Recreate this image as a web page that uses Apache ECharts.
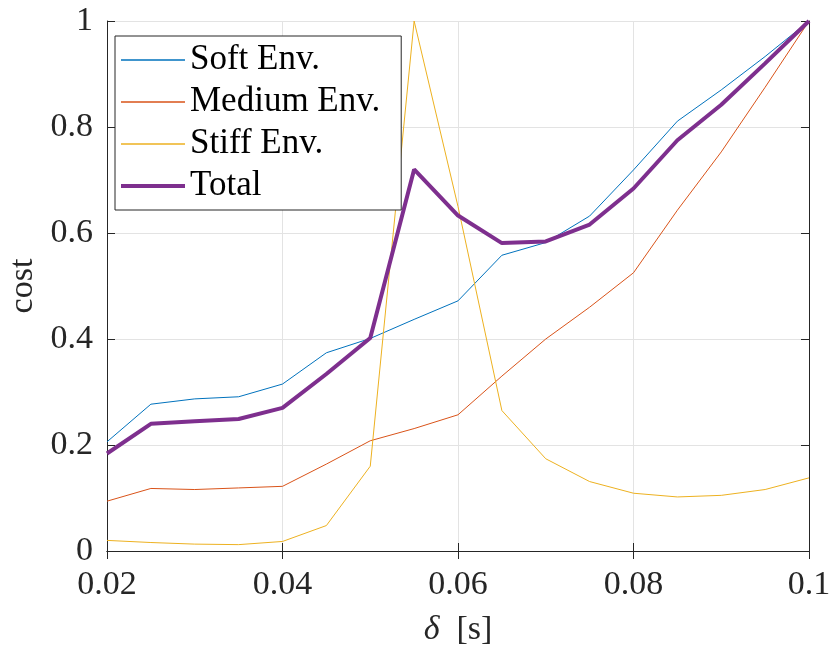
<!DOCTYPE html>
<html>
<head>
<meta charset="utf-8">
<script src="https://cdn.jsdelivr.net/npm/echarts@6/dist/echarts.min.js"></script>
<style>html,body{margin:0;padding:0;background:#fff;}#c{width:832px;height:646px;}</style>
</head>
<body>
<div id="c"></div>
<script>
const delta = [0.02,0.025,0.03,0.035,0.04,0.045,0.05,0.055,0.06,0.065,0.07,0.075,0.08,0.085,0.09,0.095,0.1];
const soft   = [0.206,0.277,0.287,0.291,0.315,0.374,0.401,0.437,0.472,0.558,0.582,0.632,0.719,0.811,0.870,0.933,1.0];
const medium = [0.094,0.118,0.116,0.119,0.122,0.164,0.208,0.231,0.257,0.330,0.400,0.460,0.525,0.643,0.753,0.875,1.0];
const stiff  = [0.020,0.016,0.013,0.012,0.018,0.048,0.160,1.0,0.650,0.265,0.174,0.131,0.109,0.102,0.105,0.116,0.138];
const total  = [0.184,0.240,0.245,0.249,0.270,0.334,0.402,0.720,0.633,0.581,0.584,0.616,0.684,0.775,0.842,0.920,1.0];
const seriesNames = ['Soft Env.','Medium Env.','Stiff Env.','Total'];
const colors = ['#0072BD','#D95319','#EDB120','#7E2F8E'];
const widths = [1,1,1,4];
const xTicks = [0.02,0.04,0.06,0.08,0.1];
const yTicks = [0,0.2,0.4,0.6,0.8,1];

const font = "'Liberation Serif', 'Times New Roman', serif";
const axisColor = '#262626';
const allData = [soft, medium, stiff, total];

function pairs(arr){ return delta.map((d,i)=>[d,arr[i]]); }

const chart = echarts.init(document.getElementById('c'));
const baseX = {type:'value', min:0.02, max:0.1, interval:0.02};
const baseY = {type:'value', min:0, max:1, interval:0.2};
chart.setOption({
  animation:false,
  backgroundColor:'#fff',
  grid:{left:107, right:23, top:21, bottom:95, containLabel:false, outerBoundsMode:'none'},
  legend:{
    show:true,
    orient:'vertical', left:115, top:36,
    data:seriesNames.map((n,i)=>({
      name:n,
      icon: widths[i] > 1 ? 'path://M0,0L64,0L64,4L0,4Z' : 'path://M0,0L64,0L64,1.3L0,1.3Z',
      itemStyle:{color:colors[i], borderWidth:0}
    })),
    itemWidth:64, itemHeight:14, itemGap:0,
    padding:[3,21,3,6],
    backgroundColor:'#fff', borderColor:'#262626', borderWidth:1,
    textStyle:{fontFamily:font, fontSize:35, color:'#000', lineHeight:42},
    z:10
  },
  xAxis:[
    Object.assign({}, baseX, {
      position:'bottom',
      name:'{i|δ}  [s]', nameLocation:'middle', nameGap:62,
      nameTextStyle:{fontFamily:font, fontSize:34, color:'#262626',
        rich:{i:{fontFamily:font, fontSize:34, fontStyle:'italic', color:'#262626'}}},
      axisLine:{show:true, lineStyle:{color:axisColor, width:1}},
      axisTick:{show:true, inside:true, length:8, lineStyle:{color:axisColor}},
      axisLabel:{fontFamily:font, fontSize:34, color:'#262626', margin:17,
        formatter:v=>String(Math.round(v*100)/100)},
      splitLine:{show:true, lineStyle:{color:'#e3e3e3', width:1}}
    }),
    Object.assign({}, baseX, {
      position:'top',
      axisLine:{show:true, lineStyle:{color:axisColor, width:1}},
      axisTick:{show:true, inside:true, length:8, lineStyle:{color:axisColor}},
      axisLabel:{show:false}, splitLine:{show:false}
    })
  ],
  yAxis:[
    Object.assign({}, baseY, {
      position:'left',
      name:'cost', nameLocation:'middle', nameGap:66,
      nameTextStyle:{fontFamily:font, fontSize:34, color:'#262626'},
      axisLine:{show:true, lineStyle:{color:axisColor, width:1}},
      axisTick:{show:true, inside:true, length:8, lineStyle:{color:axisColor}},
      axisLabel:{fontFamily:font, fontSize:34, color:'#262626', margin:14,
        formatter:v=>String(Math.round(v*10)/10)},
      splitLine:{show:true, lineStyle:{color:'#e3e3e3', width:1}}
    }),
    Object.assign({}, baseY, {
      position:'right',
      axisLine:{show:true, lineStyle:{color:axisColor, width:1}},
      axisTick:{show:true, inside:true, length:8, lineStyle:{color:axisColor}},
      axisLabel:{show:false}, splitLine:{show:false}
    })
  ],
  series: seriesNames.map((n,i)=>({
    name:n, type:'line', data:pairs(allData[i]),
    xAxisIndex:0, yAxisIndex:0,
    symbol:'none', showSymbol:false,
    lineStyle:{color:colors[i], width:widths[i]},
    itemStyle:{color:colors[i]},
    z: 2+i
  }))
});
</script>
</body>
</html>
